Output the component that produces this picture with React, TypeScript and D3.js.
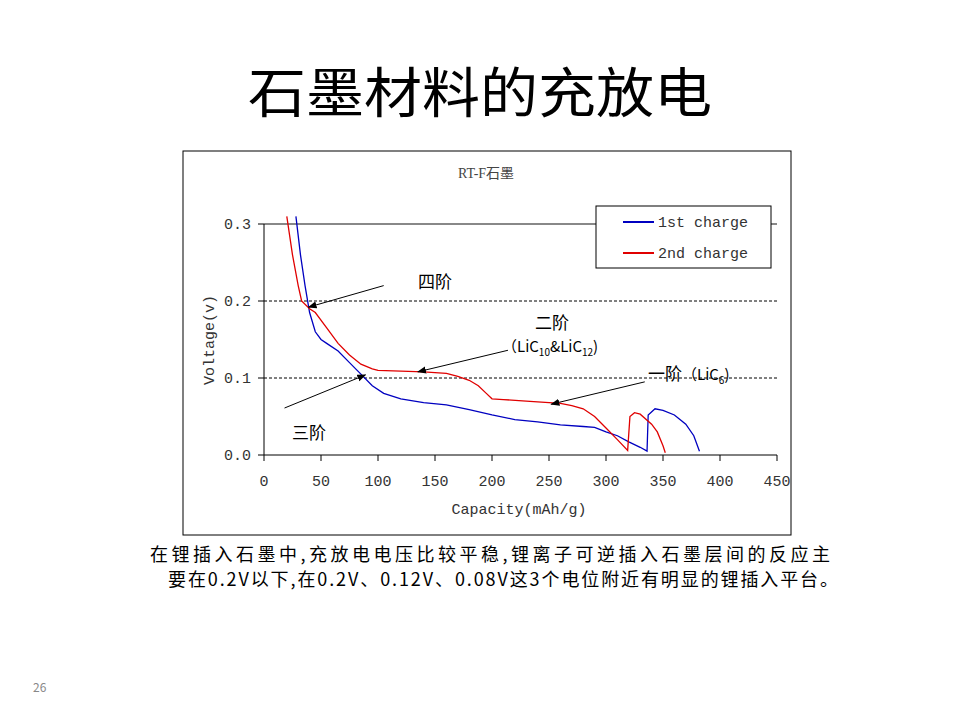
import React from "react";
import * as d3 from "d3";

const blueCap = [28, 32, 36, 40, 45, 50, 55, 65, 75, 85, 95, 105, 120, 140, 160, 180, 200, 220, 240, 260, 280, 290, 300, 310, 320, 330, 336, 337, 343, 350, 360, 370, 377, 382];
const blueV = [0.31, 0.26, 0.22, 0.185, 0.16, 0.15, 0.145, 0.135, 0.12, 0.105, 0.09, 0.08, 0.073, 0.068, 0.065, 0.059, 0.052, 0.046, 0.043, 0.039, 0.037, 0.036, 0.03, 0.025, 0.017, 0.01, 0.005, 0.052, 0.06, 0.058, 0.052, 0.04, 0.025, 0.005];
const redCap = [20, 25, 30, 33, 40, 45, 55, 65, 75, 85, 95, 100, 120, 140, 160, 170, 180, 188, 195, 200, 210, 230, 250, 260, 270, 280, 290, 300, 310, 319, 321, 325, 330, 340, 345, 350, 352];
const redV = [0.31, 0.26, 0.22, 0.2, 0.19, 0.185, 0.165, 0.145, 0.13, 0.118, 0.112, 0.11, 0.109, 0.108, 0.106, 0.102, 0.097, 0.09, 0.08, 0.073, 0.072, 0.07, 0.068, 0.067, 0.064, 0.06, 0.05, 0.035, 0.02, 0.006, 0.05, 0.055, 0.053, 0.04, 0.03, 0.012, 0.003];
const xTicks = [0, 50, 100, 150, 200, 250, 300, 350, 400, 450];
const yTicks = [0, 0.1, 0.2, 0.3];
// arrows: [x1, y1, x2, y2] in data units
const arrows = [
  [105, 0.22, 39, 0.192],
  [18, 0.061, 89, 0.104],
  [214, 0.136, 135, 0.108],
  [334, 0.095, 252, 0.066],
];

const serif = "'Liberation Serif', 'Noto Sans CJK SC', serif";
const mono = "'Liberation Mono', monospace";
const cjk = "'Noto Sans CJK SC', sans-serif";

export default function App() {
  const x = d3.scaleLinear().domain([0, 450]).range([264, 777]);
  const y = d3.scaleLinear().domain([0, 0.3]).range([455, 224]);
  const line = d3.line<[number, number]>().x((d) => x(d[0])).y((d) => y(d[1]));
  const blue = blueCap.map((c, i) => [c, blueV[i]] as [number, number]);
  const red = redCap.map((c, i) => [c, redV[i]] as [number, number]);

  return (
    <svg width={960} height={720} style={{ position: "absolute", left: 0, top: 0, background: "#fff" }}>
      <defs>
        <marker id="ah" viewBox="0 0 10 10" refX="9" refY="5" markerWidth="9" markerHeight="9" orient="auto">
          <path d="M0,1 L10,5 L0,9 z" fill="#000" />
        </marker>
        <clipPath id="clip"><rect x={264} y={210} width={513} height={245} /></clipPath>
      </defs>
      <text x={248} y={113} fontSize={54} fontFamily={cjk} textLength={464} lengthAdjust="spacingAndGlyphs">石墨材料的充放电</text>
      <rect x={183} y={151} width={608} height={384} fill="#fff" stroke="#000" strokeWidth={1} />
      <text x={486} y={178} textAnchor="middle" fontSize={14} fontFamily={serif} fill="#444">RT-F石墨</text>

      <line x1={264} x2={777} y1={y(0.3)} y2={y(0.3)} stroke="#888" strokeWidth={2} />
      {[0.1, 0.2].map((t) => (
        <line key={t} x1={264} x2={777} y1={y(t)} y2={y(t)} stroke="#000" strokeDasharray="3,2" strokeWidth={1} />
      ))}
      <line x1={264} x2={777} y1={455} y2={455} stroke="#000" />
      <line x1={264} x2={264} y1={224} y2={455} stroke="#000" />
      {xTicks.map((t) => (
        <g key={t}>
          <line x1={x(t)} x2={x(t)} y1={455} y2={461} stroke="#000" />
          <text x={x(t)} y={486} textAnchor="middle" fontSize={15} fontFamily={mono} fill="#333">{t}</text>
        </g>
      ))}
      {yTicks.map((t) => (
        <g key={t}>
          <line x1={258} x2={264} y1={y(t)} y2={y(t)} stroke="#000" />
          <text x={251} y={y(t) + 5} textAnchor="end" fontSize={15} fontFamily={mono} fill="#333">{t.toFixed(1)}</text>
        </g>
      ))}
      <text x={519} y={514} textAnchor="middle" fontSize={15} fontFamily={mono} fill="#333">Capacity(mAh/g)</text>
      <text transform="translate(214,340) rotate(-90)" textAnchor="middle" fontSize={15} fontFamily={mono} fill="#333">Voltage(v)</text>

      <g clipPath="url(#clip)">
        <path d={line(blue) ?? ""} fill="none" stroke="#0000c0" strokeWidth={1.3} />
        <path d={line(red) ?? ""} fill="none" stroke="#e00000" strokeWidth={1.3} />
      </g>

      <rect x={596} y={206} width={175} height={62} fill="#fff" stroke="#000" />
      <line x1={623} x2={654} y1={222} y2={222} stroke="#0000c0" strokeWidth={2} />
      <text x={658} y={227} fontSize={15} fontFamily={mono} fill="#333">1st charge</text>
      <line x1={623} x2={654} y1={253} y2={253} stroke="#e00000" strokeWidth={2} />
      <text x={658} y={258} fontSize={15} fontFamily={mono} fill="#333">2nd charge</text>

      {arrows.map((a, i) => (
        <line key={i} x1={x(a[0])} y1={y(a[1])} x2={x(a[2])} y2={y(a[3])} stroke="#000" strokeWidth={1} markerEnd="url(#ah)" />
      ))}
      <text x={418} y={288} fontSize={17} fontFamily={cjk}>四阶</text>
      <text x={292} y={439} fontSize={17} fontFamily={cjk}>三阶</text>
      <text x={535} y={329} fontSize={17} fontFamily={cjk}>二阶</text>
      <text x={502} y={352} fontSize={15} fontFamily={cjk}>（LiC<tspan fontSize={10} dy={4}>10</tspan><tspan dy={-4}>&amp;LiC</tspan><tspan fontSize={10} dy={4}>12</tspan><tspan dy={-4}>)</tspan></text>
      <text x={648} y={380} fontSize={17} fontFamily={cjk}>一阶<tspan fontSize={15}>（LiC</tspan><tspan fontSize={10} dy={4}>6</tspan><tspan fontSize={15} dy={-4}>)</tspan></text>

      <text x={150} y={561} fontSize={18} fontFamily={cjk} textLength={680} lengthAdjust="spacing">在锂插入石墨中,充放电电压比较平稳,锂离子可逆插入石墨层间的反应主</text>
      <text x={168} y={586} fontSize={18} fontFamily={cjk} textLength={670} lengthAdjust="spacing">要在0.2V以下,在0.2V、0.12V、0.08V这3个电位附近有明显的锂插入平台。</text>
      <text x={33} y={692} fontSize={12} fontFamily={cjk} fill="#888">26</text>
    </svg>
  );
}
